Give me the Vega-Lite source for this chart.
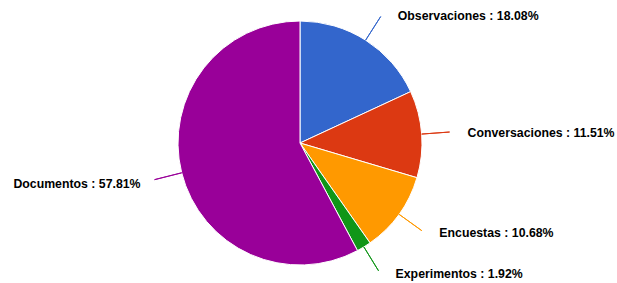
{
  "$schema": "https://vega.github.io/schema/vega-lite/v6.json",
  "width": 600,
  "height": 280,
  "autosize": {"type": "none"},
  "padding": {"left": 0, "right": 17, "top": 3, "bottom": 0},
  "background": "white",
  "view": {"stroke": null},
  "data": {
    "values": [
      {"categoria": "Observaciones", "porcentaje": 18.08, "etiqueta": "Observaciones : 18.08%"},
      {"categoria": "Conversaciones", "porcentaje": 11.51, "etiqueta": "Conversaciones : 11.51%"},
      {"categoria": "Encuestas", "porcentaje": 10.68, "etiqueta": "Encuestas : 10.68%"},
      {"categoria": "Experimentos", "porcentaje": 1.92, "etiqueta": "Experimentos : 1.92%"},
      {"categoria": "Documentos", "porcentaje": 57.81, "etiqueta": "Documentos : 57.81%"}
    ]
  },
  "transform": [{"stack": "porcentaje", "groupby": [], "as": ["ini", "fin"]}],
  "encoding": {
    "theta": {"field": "porcentaje", "type": "quantitative", "stack": true},
    "order": {"field": "ini", "type": "quantitative"},
    "color": {
      "field": "categoria",
      "type": "nominal",
      "scale": {
        "domain": ["Observaciones", "Conversaciones", "Encuestas", "Experimentos", "Documentos"],
        "range": ["#3366cc", "#dc3912", "#ff9900", "#109618", "#990099"]
      },
      "legend": null
    }
  },
  "resolve": {"scale": {"theta": "independent"}},
  "layer": [
    {
      "mark": {"type": "arc", "outerRadius": 122, "stroke": "white", "strokeWidth": 1}
    },
    {
      "mark": {"type": "arc", "filled": false, "innerRadius": 122, "outerRadius": 150, "padAngle": 2.4, "strokeWidth": 1},
      "encoding": {
        "strokeOpacity": {"condition": {"test": "datum.categoria === 'Documentos'", "value": 0}, "value": 1}
      }
    },
    {
      "mark": {"type": "arc", "filled": false, "innerRadius": 122, "outerRadius": 150, "padAngle": 2.4, "strokeWidth": 1},
      "encoding": {
        "theta": {"field": "porcentaje", "type": "quantitative", "stack": true, "scale": {"range": [2.232, 5.3736]}},
        "strokeOpacity": {"condition": {"test": "datum.categoria === 'Documentos'", "value": 1}, "value": 0}
      }
    },
    {
      "mark": {"type": "text", "radius": 152, "align": "left", "baseline": "middle", "dx": 16, "dy": 1, "font": "Liberation Sans", "fontWeight": "bold", "fontSize": 12.3},
      "encoding": {
        "text": {"condition": {"test": "datum.categoria !== 'Documentos'", "field": "etiqueta"}, "value": ""},
        "color": {"value": "black"}
      }
    },
    {
      "mark": {"type": "text", "radius": 152, "align": "right", "baseline": "middle", "dx": -12, "dy": 4, "font": "Liberation Sans", "fontWeight": "bold", "fontSize": 12.3},
      "encoding": {
        "text": {"condition": {"test": "datum.categoria === 'Documentos'", "field": "etiqueta"}, "value": ""},
        "color": {"value": "black"}
      }
    }
  ]
}
